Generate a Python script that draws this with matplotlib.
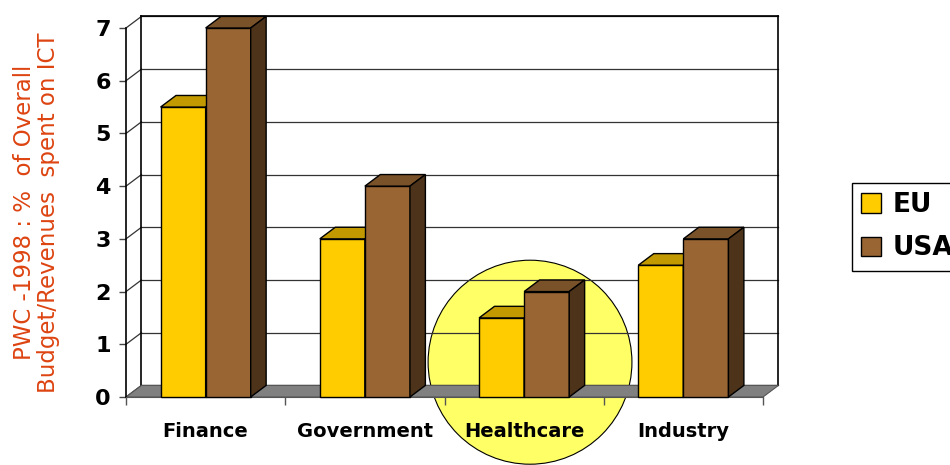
import numpy as np
import matplotlib
matplotlib.use("Agg")
import matplotlib.pyplot as plt
from matplotlib.patches import Polygon, Ellipse, Patch

# 数据
categories = ["Finance", "Government", "Healthcare", "Industry"]
eu = [5.5, 3.0, 1.5, 2.5]
usa = [7.0, 4.0, 2.0, 3.0]
series = ["EU", "USA"]
highlight = "Healthcare"

# 颜色: 正面 / 顶面 / 侧面
eu_col = ("#FFCC00", "#C29A00", "#7F6500")
usa_col = ("#996633", "#7A5229", "#4D331A")
label_col = "#DD4411"

fig = plt.figure(figsize=(9.5, 4.65), dpi=100)
ax = fig.add_axes([126 / 950, 68 / 465, 637 / 950, 369 / 465])
ax.set_xlim(-0.5, len(categories) - 0.5)
ax.set_ylim(0, 7)
ax.patch.set_visible(False)

# 3D 纵深偏移 (数据单位)
dx, dy = 0.097, 0.22
x0, x1 = -0.5, len(categories) - 0.5
bw = 0.283

# 高亮圆
hi = categories.index(highlight)
ax.add_patch(Ellipse((hi + 0.037, 0.66), 1.28, 3.87, facecolor="#FFFF66",
                     edgecolor="black", lw=0.8, zorder=0, clip_on=False))

# 背墙、侧墙网格线
for v in range(0, 8):
    ax.plot([x0 + dx, x1 + dx], [v + dy, v + dy], color="#333333", lw=0.9,
            zorder=1, clip_on=False)
    ax.plot([x0, x0 + dx], [v, v + dy], color="#333333", lw=0.9,
            zorder=1, clip_on=False)
ax.plot([x0 + dx, x0 + dx], [dy, 7 + dy], color="black", lw=1.2, zorder=1, clip_on=False)
ax.plot([x1 + dx, x1 + dx], [dy, 7 + dy], color="black", lw=1.2, zorder=1, clip_on=False)
ax.plot([x0 + dx, x1 + dx], [7 + dy, 7 + dy], color="black", lw=1.2, zorder=1, clip_on=False)

# 地板
ax.add_patch(Polygon([[x0, 0], [x1, 0], [x1 + dx, dy], [x0 + dx, dy]],
                     closed=True, facecolor="#808080", edgecolor="#555555",
                     lw=0.8, zorder=2, clip_on=False))


def bar3d(xl, h, cols, z):
    xr = xl + bw
    ax.add_patch(Polygon([[xl, 0], [xr, 0], [xr, h], [xl, h]], closed=True,
                         facecolor=cols[0], edgecolor="black", lw=1, zorder=z, clip_on=False))
    ax.add_patch(Polygon([[xl, h], [xr, h], [xr + dx, h + dy], [xl + dx, h + dy]], closed=True,
                         facecolor=cols[1], edgecolor="black", lw=1, zorder=z, clip_on=False))
    ax.add_patch(Polygon([[xr, 0], [xr + dx, dy], [xr + dx, h + dy], [xr, h]], closed=True,
                         facecolor=cols[2], edgecolor="black", lw=1, zorder=z, clip_on=False))


for i in range(len(categories)):
    bar3d(i - bw, eu[i], eu_col, 3)
    bar3d(i, usa[i], usa_col, 4)

# 坐标轴
for s in ["top", "right"]:
    ax.spines[s].set_visible(False)
ax.spines["left"].set_color("black")
ax.spines["left"].set_linewidth(1.2)
ax.spines["bottom"].set_color("#555555")
ax.spines["bottom"].set_zorder(2.5)
ax.set_yticks(range(0, 8))
ax.set_yticklabels([str(v) for v in range(0, 8)], fontsize=16, fontweight="bold")
ax.tick_params(axis="y", length=5, width=1, color="#444444", pad=6)
ax.set_xticks(range(len(categories)))
ax.set_xticklabels(categories, fontsize=14, fontweight="bold")
ax.set_xticks(np.arange(x0, x1 + 0.01, 1.0), minor=True)
ax.tick_params(axis="x", which="major", length=0, pad=18)
ax.tick_params(axis="x", which="minor", length=6, width=1, color="#555555")
for t in ax.get_xticklabels():
    t.set_zorder(6)

ax.set_ylabel("PWC -1998 : %  of Overall\nBudget/Revenues  spent on ICT",
              fontsize=16.5, color=label_col, linespacing=1.1, labelpad=25)

# 图例
handles = [Patch(facecolor=eu_col[0], edgecolor="black", lw=1),
           Patch(facecolor=usa_col[0], edgecolor="black", lw=1)]
leg = fig.legend(handles, series, loc="upper left",
                 bbox_to_anchor=(852 / 950, 1 - 183 / 465),
                 prop={"size": 19, "weight": "bold"}, frameon=True,
                 fancybox=False, framealpha=1, edgecolor="black",
                 handlelength=0.75, handleheight=0.75, handletextpad=0.45,
                 labelspacing=0.65, borderpad=0.35, borderaxespad=0)
leg.get_frame().set_linewidth(1)

fig.savefig("out.png", dpi=100)
